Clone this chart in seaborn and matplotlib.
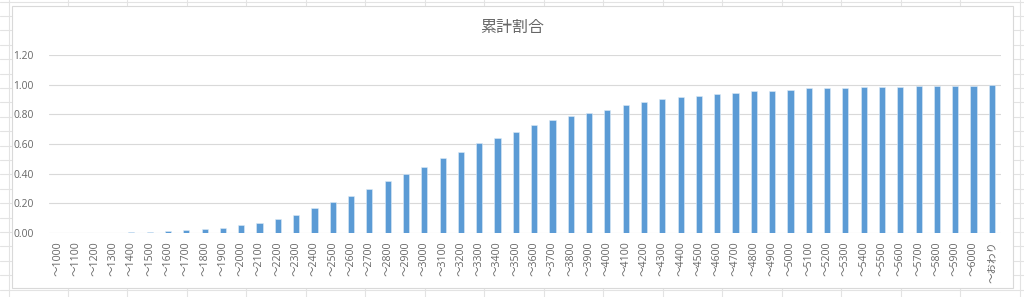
import matplotlib
matplotlib.use("Agg")
import matplotlib.pyplot as plt
import seaborn as sns
import pandas as pd
from matplotlib.lines import Line2D
from matplotlib.patches import Rectangle

categories = ["～" + str(v) for v in range(1000, 6001, 100)] + ["～おわり"]
values = [0.0, 0.0, 0.0, 0.0, 0.005, 0.005, 0.010, 0.016, 0.025, 0.034,
          0.050, 0.066, 0.093, 0.122, 0.165, 0.210, 0.248, 0.298, 0.350, 0.400,
          0.442, 0.505, 0.548, 0.606, 0.642, 0.684, 0.728, 0.765, 0.790, 0.812,
          0.833, 0.862, 0.885, 0.905, 0.919, 0.923, 0.939, 0.948, 0.959, 0.959,
          0.964, 0.977, 0.977, 0.982, 0.986, 0.986, 0.986, 0.991, 0.991, 0.991,
          0.995, 1.000]
yticks = [0.0, 0.2, 0.4, 0.6, 0.8, 1.0, 1.2]
title = "累計割合"

df = pd.DataFrame({"cat": categories, "val": values})

sns.set_style("white")
plt.rcParams["font.family"] = ["Open Sans", "Noto Sans CJK JP", "DejaVu Sans"]

W, H = 1024, 297
fig = plt.figure(figsize=(W / 100, H / 100), dpi=100)
fig.patch.set_facecolor("white")

# spreadsheet grid behind the chart
grid_c = "#E3E3E3"
xs = [9.0] + [68 + 59.47 * k for k in range(17)]
for gx in xs:
    fig.add_artist(Line2D([gx / W, gx / W], [0, 1], color=grid_c, lw=0.8, zorder=0))
gy = 1.5
while gy < H:
    fig.add_artist(Line2D([0, 1], [1 - gy / H, 1 - gy / H], color=grid_c, lw=0.8, zorder=0))
    gy += 14.4

# chart area
fig.add_artist(Rectangle((12 / W, 1 - 288 / H), (1013 - 12) / W, (288 - 6) / H,
                         facecolor="white", edgecolor="#D9D9D9", lw=0.8, zorder=1))

ax = fig.add_axes([49 / W, 1 - 232.7 / H, (1001 - 49) / W, (232.7 - 55.3) / H], zorder=2)
ax.set_facecolor("none")

sns.barplot(data=df, x="cat", y="val", color="#5B9BD5", width=0.34,
            saturation=1, ax=ax, zorder=3, edgecolor="#DDEBF7", linewidth=0.4)

ax.set_ylim(0, 1.2)
ax.set_xlim(-0.5, len(categories) - 0.5)
ax.set_yticks(yticks)
ax.set_yticklabels([f"{t:.2f}" for t in yticks])
ax.yaxis.grid(True, color="#D9D9D9", lw=0.8)
ax.set_axisbelow(True)
for s in ax.spines.values():
    s.set_visible(False)
ax.tick_params(axis="both", length=0, colors="#666666", labelsize=7.4)
ax.tick_params(axis="y", pad=11)
ax.tick_params(axis="x", pad=6, labelsize=7.6)
for lbl in ax.get_xticklabels():
    lbl.set_rotation(90)
    lbl.set_va("top")
    lbl.set_ha("center")
ax.set_xlabel("")
ax.set_ylabel("")

fig.text(0.5, 1 - 27 / H, title, ha="center", va="center", fontsize=11.5,
         color="#666666", family=["Noto Sans CJK JP", "DejaVu Sans"])

fig.savefig("out.png", dpi=100, facecolor="white")
